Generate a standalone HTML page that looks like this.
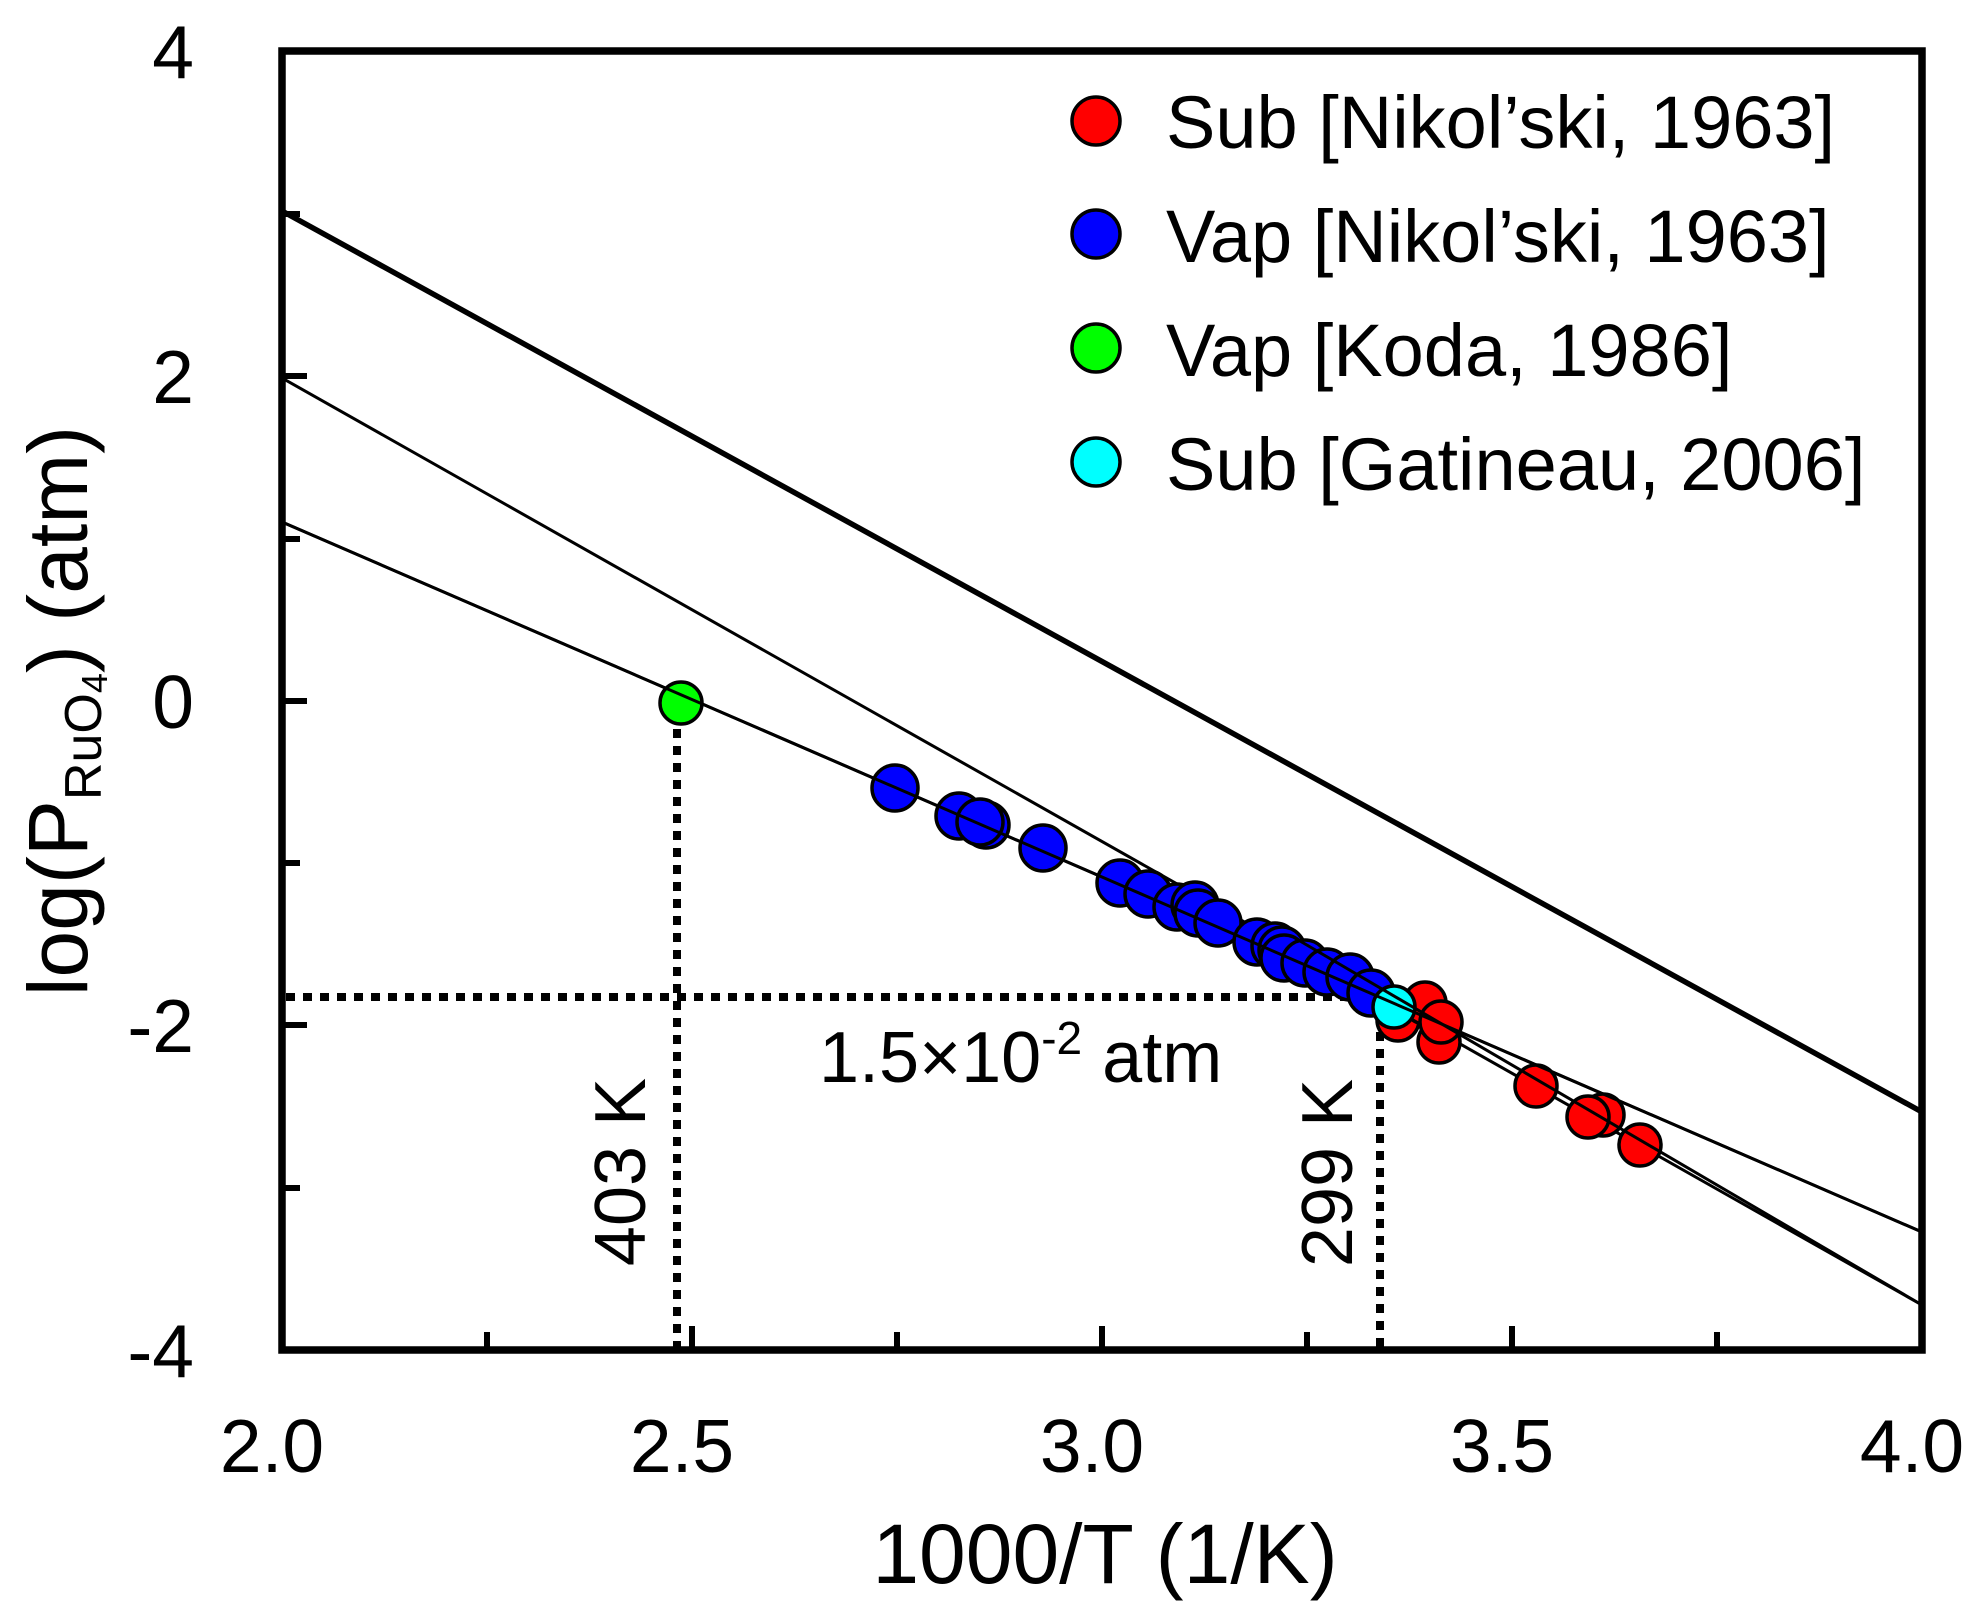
<!DOCTYPE html>
<html><head><meta charset="utf-8"><style>
html,body{margin:0;padding:0;background:#fff}
svg{display:block}
text{font-family:"Liberation Sans",Arial,sans-serif;fill:#000}
</style></head><body>
<svg width="1981" height="1618" viewBox="0 0 1981 1618" xmlns="http://www.w3.org/2000/svg">
<rect width="1981" height="1618" fill="#fff"/>
<line x1="282" y1="211" x2="1922" y2="1112" stroke="#000" stroke-width="5.5"/>
<line x1="282" y1="378" x2="1922" y2="1305" stroke="#000" stroke-width="3"/>
<line x1="282" y1="522" x2="1922" y2="1232" stroke="#000" stroke-width="3"/>
<g stroke="#000" stroke-width="8" stroke-dasharray="9 8" fill="none">
<line x1="286" y1="997" x2="1390" y2="997"/>
<line x1="677" y1="712" x2="677" y2="1350"/>
<line x1="1380" y1="1032" x2="1380" y2="1350"/>
</g>
<g stroke="#000" stroke-width="3.5">
<g fill="#0000ff">
<circle cx="895" cy="788" r="23"/>
<circle cx="959" cy="816" r="23"/>
<circle cx="986" cy="825" r="23"/>
<circle cx="980" cy="822" r="23"/>
<circle cx="1043" cy="848" r="23"/>
<circle cx="1120" cy="883" r="23"/>
<circle cx="1148" cy="894" r="23"/>
<circle cx="1177" cy="907" r="23"/>
<circle cx="1195" cy="905" r="23"/>
<circle cx="1198" cy="913" r="23"/>
<circle cx="1218" cy="923" r="23"/>
<circle cx="1257" cy="942" r="23"/>
<circle cx="1275" cy="946" r="23"/>
<circle cx="1282" cy="950" r="23"/>
<circle cx="1284" cy="958" r="23"/>
<circle cx="1305" cy="963" r="23"/>
<circle cx="1327" cy="972" r="23"/>
<circle cx="1350" cy="977" r="23"/>
<circle cx="1371" cy="993" r="23"/>
</g>
<g fill="#ff0000">
<circle cx="1398" cy="1020" r="21"/>
<circle cx="1425" cy="1003" r="21"/>
<circle cx="1439" cy="1042" r="21"/>
<circle cx="1441" cy="1022" r="21"/>
<circle cx="1536" cy="1086" r="21"/>
<circle cx="1603" cy="1115" r="21"/>
<circle cx="1588" cy="1117" r="21"/>
<circle cx="1640" cy="1145" r="21"/>
</g>
<circle cx="1394" cy="1007" r="21" fill="#00ffff"/>
<circle cx="681" cy="703" r="21" fill="#00ff00"/>
</g>
<line x1="282" y1="522" x2="1922" y2="1232" stroke="#000" stroke-width="3"/>
<line x1="1300" y1="941" x2="1922" y2="1305" stroke="#000" stroke-width="3"/>
<rect x="282" y="51" width="1640" height="1299" fill="none" stroke="#000" stroke-width="7.5"/>
<g stroke="#000" stroke-width="6">
<line x1="282" y1="376" x2="307" y2="376"/>
<line x1="282" y1="214" x2="300" y2="214"/>
<line x1="282" y1="539" x2="300" y2="539"/>
<line x1="282" y1="701" x2="307" y2="701"/>
<line x1="282" y1="863" x2="300" y2="863"/>
<line x1="282" y1="1025" x2="307" y2="1025"/>
<line x1="282" y1="1188" x2="300" y2="1188"/>
<line x1="487" y1="1350" x2="487" y2="1332"/>
<line x1="692" y1="1350" x2="692" y2="1326"/>
<line x1="897" y1="1350" x2="897" y2="1332"/>
<line x1="1102" y1="1350" x2="1102" y2="1326"/>
<line x1="1307" y1="1350" x2="1307" y2="1332"/>
<line x1="1512" y1="1350" x2="1512" y2="1326"/>
<line x1="1717" y1="1350" x2="1717" y2="1332"/>
</g>
<g font-size="75" text-anchor="end">
<text x="194" y="78">4</text>
<text x="194" y="403">2</text>
<text x="194" y="728">0</text>
<text x="194" y="1052">-2</text>
<text x="194" y="1377">-4</text>
</g>
<g font-size="75" text-anchor="middle">
<text x="272" y="1472">2.0</text>
<text x="682" y="1472">2.5</text>
<text x="1092" y="1472">3.0</text>
<text x="1502" y="1472">3.5</text>
<text x="1912" y="1472">4.0</text>
</g>
<text x="1105" y="1583" font-size="84" text-anchor="middle">1000/T (1/K)</text>
<text transform="translate(87,711) rotate(-90)" font-size="84" text-anchor="middle">log(P<tspan font-size="52" dy="14">RuO</tspan><tspan font-size="36" dy="6">4</tspan><tspan dy="-20">) (atm)</tspan></text>
<text x="819" y="1082" font-size="72">1.5×10<tspan font-size="46" dy="-28">-2</tspan><tspan dy="28"> atm</tspan></text>
<text transform="translate(645,1172) rotate(-90)" font-size="72" text-anchor="middle">403 K</text>
<text transform="translate(1352,1173) rotate(-90)" font-size="72" text-anchor="middle">299 K</text>
<g stroke="#000" stroke-width="3.5">
<circle cx="1096" cy="121" r="24" fill="#ff0000"/>
<circle cx="1096" cy="234" r="24" fill="#0000ff"/>
<circle cx="1096" cy="348" r="24" fill="#00ff00"/>
<circle cx="1096" cy="462" r="24" fill="#00ffff"/>
</g>
<g font-size="74">
<text x="1166" y="148">Sub [Nikol’ski, 1963]</text>
<text x="1166" y="262">Vap [Nikol’ski, 1963]</text>
<text x="1166" y="376">Vap [Koda, 1986]</text>
<text x="1166" y="490">Sub [Gatineau, 2006]</text>
</g>
</svg>
</body></html>
